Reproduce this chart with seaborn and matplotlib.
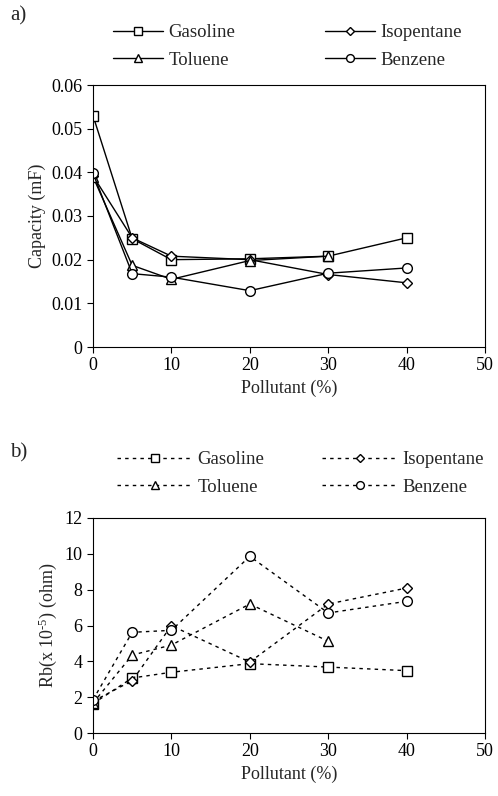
import numpy as np
import pandas as pd
import matplotlib
matplotlib.use("Agg")
import matplotlib.pyplot as plt
import seaborn as sns

sns.set_style("white")
plt.rcParams['font.family'] = ['Liberation Serif', 'DejaVu Serif']
plt.rcParams['mathtext.fontset'] = 'custom'
plt.rcParams['mathtext.rm'] = 'Liberation Serif'
plt.rcParams['mathtext.it'] = 'Liberation Serif:italic'
plt.rcParams['mathtext.default'] = 'regular'

x_vals = [0, 5, 10, 20, 30, 40]
series = ["Gasoline", "Isopentane", "Toluene", "Benzene"]

cap_gasoline = [0.0530, 0.0248, 0.0200, 0.0202, 0.0208, 0.0250]
cap_isopentane = [0.0392, 0.0250, 0.0208, 0.0200, 0.0166, 0.0147]
cap_toluene = [0.0390, 0.0187, 0.0155, 0.0198, 0.0208]
cap_benzene = [0.0398, 0.0168, 0.0160, 0.0129, 0.0169, 0.0181]

rb_gasoline = [1.64, 3.07, 3.39, 3.87, 3.68, 3.48]
rb_isopentane = [1.77, 2.92, 5.99, 3.96, 7.20, 8.09]
rb_toluene = [1.67, 4.35, 4.91, 7.20, 5.12]
rb_benzene = [1.86, 5.62, 5.73, 9.86, 6.70, 7.35]

markers = {"Gasoline": "s", "Isopentane": "D", "Toluene": "^", "Benzene": "o"}
msizes = {"Gasoline": 6.5, "Isopentane": 5.5, "Toluene": 7.5, "Benzene": 7.0}


def to_df(vals):
    rows = []
    for name, v in zip(series, vals):
        for xx, yy in zip(x_vals, v):
            rows.append({"Pollutant": xx, "value": yy, "series": name})
    return pd.DataFrame(rows)


df_a = to_df([cap_gasoline, cap_isopentane, cap_toluene, cap_benzene])
df_b = to_df([rb_gasoline, rb_isopentane, rb_toluene, rb_benzene])

W, H = 498, 796
fig = plt.figure(figsize=(W / 100, H / 100), dpi=100)
ax1 = fig.add_axes([93 / W, 1 - 347 / H, 392 / W, 262 / H])
ax2 = fig.add_axes([93 / W, 1 - 733 / H, 392 / W, 215 / H])


def draw(ax, df, ls):
    for name in series:
        sub = df[df["series"] == name]
        sns.lineplot(data=sub, x="Pollutant", y="value", ax=ax, color="black",
                     linewidth=1.0, linestyle=ls, marker=markers[name],
                     markersize=msizes[name], markerfacecolor="white",
                     markeredgecolor="black", markeredgewidth=1.0,
                     label=name, legend=False)
    ax.set_xlim(0, 50)
    ax.set_xticks([0, 10, 20, 30, 40, 50])
    for sp in ax.spines.values():
        sp.set_color("black")
        sp.set_linewidth(0.8)
    ax.tick_params(axis="both", direction="out", length=4, width=0.8,
                   labelsize=13, colors="black", bottom=True, left=True)
    ax.set_xlabel("Pollutant (%)", fontsize=13)


draw(ax1, df_a, "-")
ax1.set_ylim(0, 0.06)
ax1.set_yticks([0, 0.01, 0.02, 0.03, 0.04, 0.05, 0.06])
ax1.set_yticklabels(["0", "0.01", "0.02", "0.03", "0.04", "0.05", "0.06"])
ax1.set_ylabel("Capacity (mF)", fontsize=13)

draw(ax2, df_b, (0, (2.5, 3)))
ax2.set_ylim(0, 12)
ax2.set_yticks([0, 2, 4, 6, 8, 10, 12])
ax2.set_ylabel(r"Rb(x 10$^{\text{-5}}$) (ohm)", fontsize=13)


def place_legends(ax, cols, yc, hlen):
    h, l = ax.get_legend_handles_labels()
    hd = dict(zip(l, h))
    for names, xl in cols:
        fig.legend([hd[n] for n in names], names, loc="center left",
                   bbox_to_anchor=(xl / W, 1 - yc / H), frameon=False,
                   fontsize=13.5, handlelength=hlen, handletextpad=0.3,
                   labelspacing=0.55, borderpad=0, borderaxespad=0,
                   markerscale=0.8)


place_legends(ax1, [(["Gasoline", "Toluene"], 113),
                    (["Isopentane", "Benzene"], 325)], 46.5, 2.65)
place_legends(ax2, [(["Gasoline", "Toluene"], 117),
                    (["Isopentane", "Benzene"], 322)], 473.5, 4.0)

fig.text(10 / W, 1 - 16 / H, "a)", fontsize=15, va="center")
fig.text(10 / W, 1 - 453 / H, "b)", fontsize=15, va="center")

fig.savefig("out.png", dpi=100)
